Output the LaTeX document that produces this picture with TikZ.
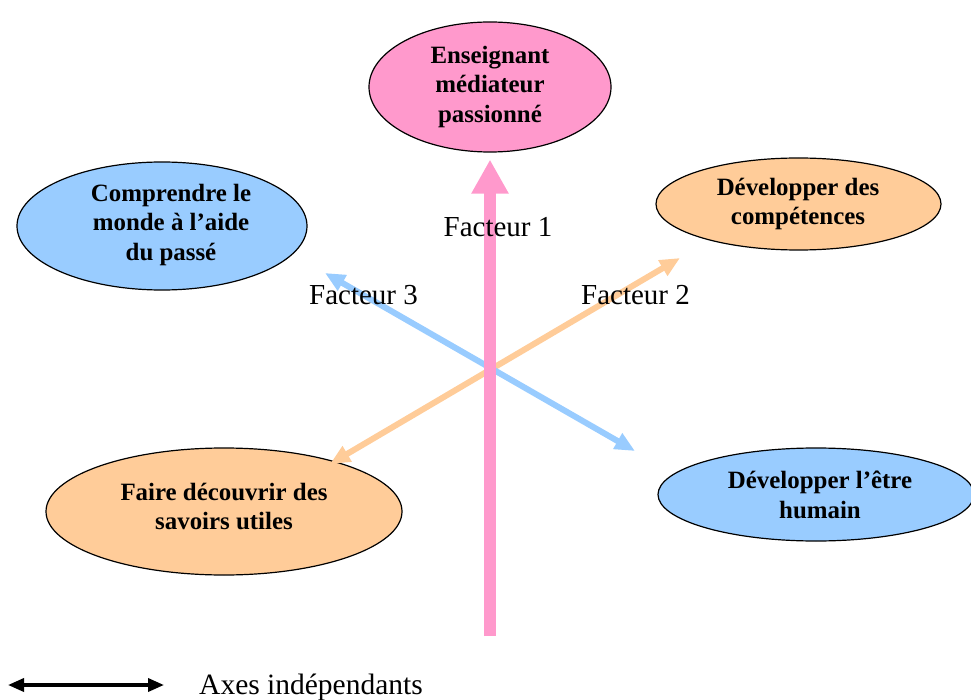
\documentclass[tikz,border=0pt]{standalone}
\usepackage{fontspec}
\setmainfont{Liberation Serif}
\usetikzlibrary{shapes.geometric,arrows.meta}
\definecolor{rose}{HTML}{FF99CC}
\definecolor{ciel}{HTML}{99CCFF}
\definecolor{peche}{HTML}{FFCC99}
\tikzset{
  bulle/.style={ellipse, draw=black, line width=1.2pt, inner sep=0pt},
  bulletxt/.style={align=center, inner sep=0pt, font=\bfseries\fontsize{24.9}{29.5}\selectfont},
  facteur/.style={anchor=base, inner sep=0pt, font=\fontsize{29}{34}\selectfont},
  axe/.style={line width=6pt, {Triangle[length=20pt,width=17pt]}-{Triangle[length=20pt,width=17pt]}},
}
\begin{document}
\begin{tikzpicture}[x=1pt,y=-1pt]
\useasboundingbox (0,0) rectangle (971,700);

% ellipses
\node[bulle, fill=rose, minimum width=242pt, minimum height=130pt] (pink) at (490,87) {};
\node[bulle, fill=ciel, minimum width=290pt, minimum height=128pt] (blueL) at (162,226) {};
\node[bulle, fill=peche, minimum width=285pt, minimum height=92pt] (orangeR) at (798.5,204) {};
\node[bulle, fill=peche, minimum width=356pt, minimum height=127pt] (orangeL) at (224,511.5) {};
\node[bulle, fill=ciel, minimum width=316pt, minimum height=93pt] (blueR) at (816,494.5) {};

% ellipse captions
\node[bulletxt] (tPink) at (490,87) {Enseignant\\médiateur\\passionné};
\node[bulletxt] (tBlueL) at (171,225) {Comprendre le\\monde à l’aide\\du passé};
\node[bulletxt] (tOrangeR) at (798,204) {Développer des\\compétences};
\node[bulletxt] (tOrangeL) at (224,506.5) {Faire découvrir des\\savoirs utiles};
\node[bulletxt] (tBlueR) at (820,495) {Développer l’être\\humain};

% axes
\coordinate (o1) at (330,464);
\coordinate (o2) at (680,258);
\coordinate (b1) at (325,273);
\coordinate (b2) at (635,451);
\coordinate (pinkBase) at (490,636);
\draw[axe, draw=peche, fill=peche] (o1) -- (o2);
\draw[axe, draw=ciel, fill=ciel] (b1) -- (b2);
\draw[draw=rose, line width=12.5pt, -{Triangle[length=34pt,width=35pt]}, shorten >=7pt] (pinkBase) -- (pink.south);

% axis labels
\node[facteur] (f1) at (498,237) {Facteur 1};
\node[facteur] (f3) at (363.5,305) {Facteur 3};
\node[facteur] (f2) at (635.5,305) {Facteur 2};

% legend
\coordinate (legL) at (8,685);
\coordinate (legR) at (164,685);
\draw[line width=3.5pt, {Triangle[length=16pt,width=13pt]}-{Triangle[length=16pt,width=13pt]}] (legL) -- (legR);
\node[anchor=base west, inner sep=0pt, font=\fontsize{29.5}{34}\selectfont] (legTxt) at (199,694) {Axes indépendants};
\end{tikzpicture}
\end{document}
